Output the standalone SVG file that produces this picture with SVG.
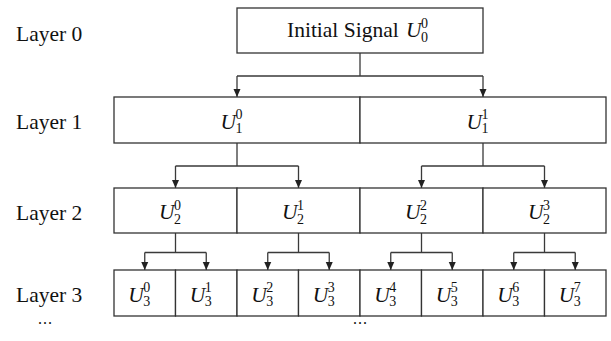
<svg xmlns="http://www.w3.org/2000/svg" width="611" height="341" viewBox="0 0 611 341">
  <style>
    .cell { fill: #ffffff; stroke: #333333; stroke-width: 1.3; }
    .wire { fill: none; stroke: #3a3a3a; stroke-width: 1.3; }
    .lbl { font-family: "Liberation Serif", "Times New Roman", serif; font-size: 21.5px; fill: #111111; }
    .dots { font-family: "Liberation Serif", "Times New Roman", serif; font-size: 16px; letter-spacing: 1px; fill: #111111; }
    .u { font-family: "Liberation Serif", "Times New Roman", serif; font-style: italic; font-size: 21.5px; fill: #111111; }
    .s { font-style: normal; font-size: 14px; }
  </style>
  <defs>
    <marker id="tip" viewBox="0 -4 8 8" refX="8" refY="0" markerWidth="8" markerHeight="8" markerUnits="userSpaceOnUse" orient="auto">
      <path d="M0,-3.5 L8,0 L0,3.5 Z" fill="#222222"/>
    </marker>
  </defs>

  <rect width="611" height="341" fill="#ffffff"/>

  <!-- layer captions -->
  <g id="captions">
    <text class="lbl" x="16" y="40.5">Layer 0</text>
    <text class="lbl" x="16" y="128.5">Layer 1</text>
    <text class="lbl" x="16" y="219.5">Layer 2</text>
    <text class="lbl" x="16" y="301.5">Layer 3</text>
    <text class="dots" x="38" y="324">...</text>
    <text class="dots" x="353" y="324">...</text>
  </g>

  <!-- connectors -->
  <g id="connectors" class="wire">
    <!-- layer 0 to layer 1 -->
    <path d="M360,53 V76 M237,76 H483"/>
    <path d="M237,76 V97" marker-end="url(#tip)"/>
    <path d="M483,76 V97" marker-end="url(#tip)"/>
    <!-- layer 1 to layer 2 -->
    <path d="M237,143 V166 M175.5,166 H298.5"/>
    <path d="M175.5,166 V188" marker-end="url(#tip)"/>
    <path d="M298.5,166 V188" marker-end="url(#tip)"/>
    <path d="M483,143 V166 M421.5,166 H544.5"/>
    <path d="M421.5,166 V188" marker-end="url(#tip)"/>
    <path d="M544.5,166 V188" marker-end="url(#tip)"/>
    <!-- layer 2 to layer 3 -->
    <path d="M175.5,233 V252.5 M144.75,252.5 H206.25"/>
    <path d="M144.75,252.5 V270" marker-end="url(#tip)"/>
    <path d="M206.25,252.5 V270" marker-end="url(#tip)"/>
    <path d="M298.5,233 V252.5 M267.75,252.5 H329.25"/>
    <path d="M267.75,252.5 V270" marker-end="url(#tip)"/>
    <path d="M329.25,252.5 V270" marker-end="url(#tip)"/>
    <path d="M421.5,233 V252.5 M390.75,252.5 H452.25"/>
    <path d="M390.75,252.5 V270" marker-end="url(#tip)"/>
    <path d="M452.25,252.5 V270" marker-end="url(#tip)"/>
    <path d="M544.5,233 V252.5 M513.75,252.5 H575.25"/>
    <path d="M513.75,252.5 V270" marker-end="url(#tip)"/>
    <path d="M575.25,252.5 V270" marker-end="url(#tip)"/>
  </g>

  <!-- layer 0: each symbol is U with a superscript (dy -9.5) and a subscript (dy +14) -->
  <g id="u0_0">
    <rect class="cell" x="237" y="8" width="246" height="45"/>
    <text class="lbl" x="287" y="37">Initial Signal</text>
    <text class="u" x="406" y="37">U<tspan class="s" x="421" dy="-9.5">0</tspan><tspan class="s" x="421" dy="14">0</tspan></text>
  </g>

  <!-- layer 1 -->
  <g id="u1_0">
    <rect class="cell" x="114" y="97" width="246" height="46"/>
    <text class="u" x="220.5" y="128.5">U<tspan class="s" x="235.5" dy="-9.5">0</tspan><tspan class="s" x="235.5" dy="14">1</tspan></text>
  </g>
  <g id="u1_1">
    <rect class="cell" x="360" y="97" width="246" height="46"/>
    <text class="u" x="466.5" y="128.5">U<tspan class="s" x="481.5" dy="-9.5">1</tspan><tspan class="s" x="481.5" dy="14">1</tspan></text>
  </g>

  <!-- layer 2 -->
  <g id="u2_0">
    <rect class="cell" x="114" y="188" width="123" height="45"/>
    <text class="u" x="159" y="219">U<tspan class="s" x="174" dy="-9.5">0</tspan><tspan class="s" x="174" dy="14">2</tspan></text>
  </g>
  <g id="u2_1">
    <rect class="cell" x="237" y="188" width="123" height="45"/>
    <text class="u" x="282" y="219">U<tspan class="s" x="297" dy="-9.5">1</tspan><tspan class="s" x="297" dy="14">2</tspan></text>
  </g>
  <g id="u2_2">
    <rect class="cell" x="360" y="188" width="123" height="45"/>
    <text class="u" x="405" y="219">U<tspan class="s" x="420" dy="-9.5">2</tspan><tspan class="s" x="420" dy="14">2</tspan></text>
  </g>
  <g id="u2_3">
    <rect class="cell" x="483" y="188" width="123" height="45"/>
    <text class="u" x="528" y="219">U<tspan class="s" x="543" dy="-9.5">3</tspan><tspan class="s" x="543" dy="14">2</tspan></text>
  </g>

  <!-- layer 3 -->
  <g id="u3_0">
    <rect class="cell" x="114" y="270" width="61.5" height="46"/>
    <text class="u" x="128.25" y="301.5">U<tspan class="s" x="143.25" dy="-9.5">0</tspan><tspan class="s" x="143.25" dy="14">3</tspan></text>
  </g>
  <g id="u3_1">
    <rect class="cell" x="175.5" y="270" width="61.5" height="46"/>
    <text class="u" x="189.75" y="301.5">U<tspan class="s" x="204.75" dy="-9.5">1</tspan><tspan class="s" x="204.75" dy="14">3</tspan></text>
  </g>
  <g id="u3_2">
    <rect class="cell" x="237" y="270" width="61.5" height="46"/>
    <text class="u" x="251.25" y="301.5">U<tspan class="s" x="266.25" dy="-9.5">2</tspan><tspan class="s" x="266.25" dy="14">3</tspan></text>
  </g>
  <g id="u3_3">
    <rect class="cell" x="298.5" y="270" width="61.5" height="46"/>
    <text class="u" x="312.75" y="301.5">U<tspan class="s" x="327.75" dy="-9.5">3</tspan><tspan class="s" x="327.75" dy="14">3</tspan></text>
  </g>
  <g id="u3_4">
    <rect class="cell" x="360" y="270" width="61.5" height="46"/>
    <text class="u" x="374.25" y="301.5">U<tspan class="s" x="389.25" dy="-9.5">4</tspan><tspan class="s" x="389.25" dy="14">3</tspan></text>
  </g>
  <g id="u3_5">
    <rect class="cell" x="421.5" y="270" width="61.5" height="46"/>
    <text class="u" x="435.75" y="301.5">U<tspan class="s" x="450.75" dy="-9.5">5</tspan><tspan class="s" x="450.75" dy="14">3</tspan></text>
  </g>
  <g id="u3_6">
    <rect class="cell" x="483" y="270" width="61.5" height="46"/>
    <text class="u" x="497.25" y="301.5">U<tspan class="s" x="512.25" dy="-9.5">6</tspan><tspan class="s" x="512.25" dy="14">3</tspan></text>
  </g>
  <g id="u3_7">
    <rect class="cell" x="544.5" y="270" width="61.5" height="46"/>
    <text class="u" x="558.75" y="301.5">U<tspan class="s" x="573.75" dy="-9.5">7</tspan><tspan class="s" x="573.75" dy="14">3</tspan></text>
  </g>
</svg>
